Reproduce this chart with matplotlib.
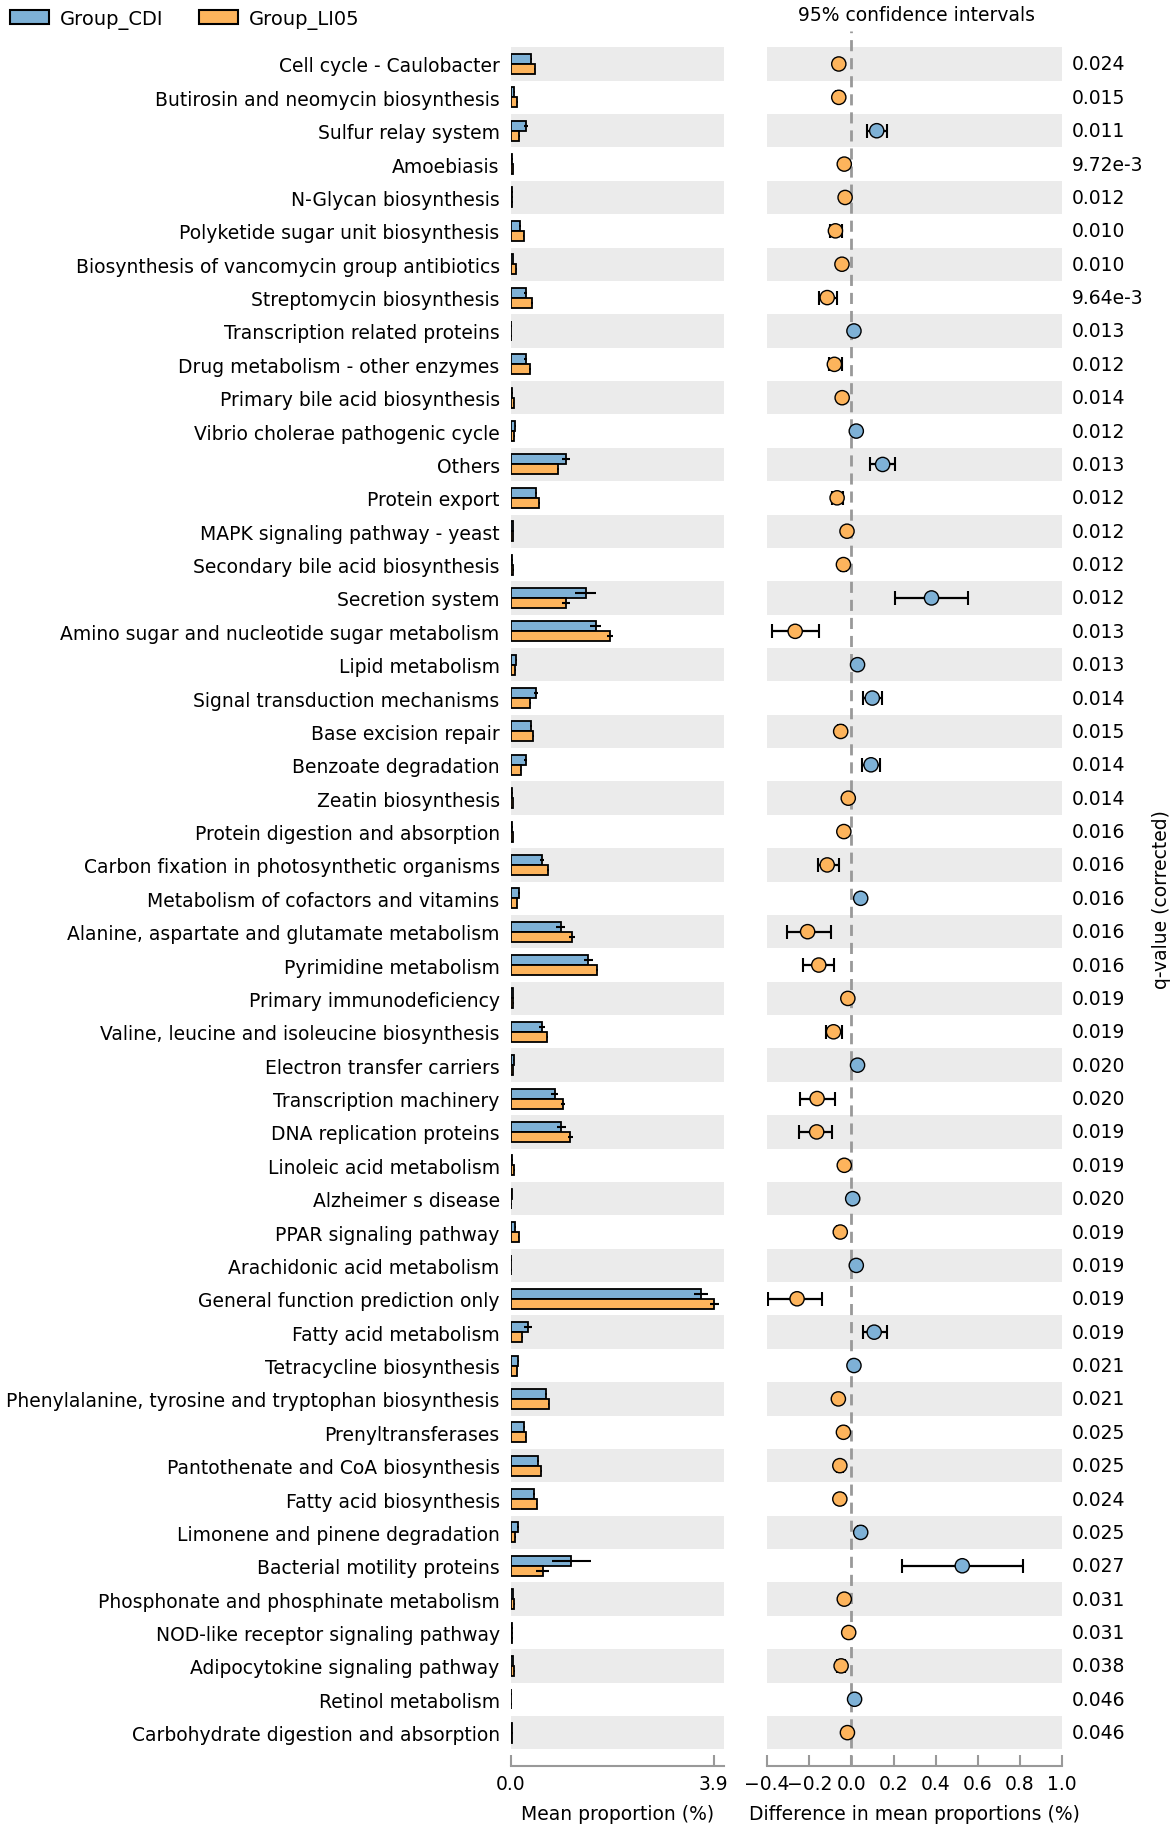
import numpy as np
import matplotlib
matplotlib.use("Agg")
import matplotlib.pyplot as plt
from matplotlib.patches import Patch
from matplotlib.transforms import blended_transform_factory

plt.rcParams['font.family'] = ['DejaVu Sans']
FS = 13.5

categories = [
    "Cell cycle - Caulobacter", "Butirosin and neomycin biosynthesis", "Sulfur relay system",
    "Amoebiasis", "N-Glycan biosynthesis", "Polyketide sugar unit biosynthesis",
    "Biosynthesis of vancomycin group antibiotics", "Streptomycin biosynthesis",
    "Transcription related proteins", "Drug metabolism - other enzymes",
    "Primary bile acid biosynthesis", "Vibrio cholerae pathogenic cycle", "Others",
    "Protein export", "MAPK signaling pathway - yeast", "Secondary bile acid biosynthesis",
    "Secretion system", "Amino sugar and nucleotide sugar metabolism", "Lipid metabolism",
    "Signal transduction mechanisms", "Base excision repair", "Benzoate degradation",
    "Zeatin biosynthesis", "Protein digestion and absorption",
    "Carbon fixation in photosynthetic organisms", "Metabolism of cofactors and vitamins",
    "Alanine, aspartate and glutamate metabolism", "Pyrimidine metabolism",
    "Primary immunodeficiency", "Valine, leucine and isoleucine biosynthesis",
    "Electron transfer carriers", "Transcription machinery", "DNA replication proteins",
    "Linoleic acid metabolism", "Alzheimer s disease", "PPAR signaling pathway",
    "Arachidonic acid metabolism", "General function prediction only",
    "Fatty acid metabolism", "Tetracycline biosynthesis",
    "Phenylalanine, tyrosine and tryptophan biosynthesis", "Prenyltransferases",
    "Pantothenate and CoA biosynthesis", "Fatty acid biosynthesis",
    "Limonene and pinene degradation", "Bacterial motility proteins",
    "Phosphonate and phosphinate metabolism", "NOD-like receptor signaling pathway",
    "Adipocytokine signaling pathway", "Retinol metabolism",
    "Carbohydrate digestion and absorption",
]

cdi = [0.39, 0.07, 0.29, 0.03, 0.03, 0.17, 0.04, 0.29, 0.01, 0.29,
       0.03, 0.085, 1.06, 0.485, 0.04, 0.03, 1.44, 1.63, 0.10, 0.48,
       0.38, 0.29, 0.03, 0.03, 0.60, 0.16, 0.96, 1.49, 0.04, 0.60,
       0.06, 0.84, 0.97, 0.03, 0.02, 0.085, 0.01, 3.65, 0.33, 0.145,
       0.68, 0.255, 0.53, 0.45, 0.14, 1.16, 0.04, 0.03, 0.04, 0.01, 0.02]
li05 = [0.46, 0.12, 0.16, 0.04, 0.03, 0.25, 0.10, 0.40, 0.01, 0.37,
        0.06, 0.07, 0.91, 0.545, 0.04, 0.05, 1.06, 1.90, 0.085, 0.37,
        0.43, 0.19, 0.04, 0.04, 0.715, 0.12, 1.175, 1.66, 0.05, 0.70,
        0.04, 1.01, 1.14, 0.07, 0.01, 0.15, 0.01, 3.91, 0.22, 0.12,
        0.73, 0.29, 0.58, 0.50, 0.085, 0.61, 0.07, 0.03, 0.07, 0.01, 0.02]
cdi_err = [0.01, 0.01, 0.04, 0.005, 0.005, 0.02, 0.005, 0.03, 0.005, 0.03,
           0.005, 0.01, 0.08, 0.02, 0.005, 0.005, 0.20, 0.11, 0.01, 0.04,
           0.02, 0.03, 0.005, 0.005, 0.04, 0.02, 0.085, 0.08, 0.005, 0.055,
           0.01, 0.075, 0.085, 0.005, 0.005, 0.01, 0.005, 0.13, 0.07, 0.01,
           0.02, 0.01, 0.02, 0.02, 0.02, 0.375, 0.005, 0.005, 0.005, 0.005, 0.005]
li05_err = [0.01, 0.01, 0.01, 0.005, 0.005, 0.01, 0.01, 0.02, 0.005, 0.02,
            0.01, 0.005, 0.02, 0.01, 0.005, 0.005, 0.07, 0.06, 0.005, 0.01,
            0.01, 0.01, 0.005, 0.005, 0.02, 0.005, 0.05, 0.02, 0.005, 0.01,
            0.005, 0.04, 0.05, 0.005, 0.005, 0.01, 0.005, 0.08, 0.01, 0.005,
            0.01, 0.01, 0.01, 0.01, 0.005, 0.12, 0.005, 0.005, 0.005, 0.005, 0.005]

diff = [-0.060, -0.060, 0.120, -0.034, -0.030, -0.076, -0.045, -0.115, 0.012, -0.081,
        -0.044, 0.023, 0.148, -0.068, -0.021, -0.038, 0.380, -0.267, 0.029, 0.099,
        -0.051, 0.093, -0.015, -0.036, -0.115, 0.044, -0.208, -0.155, -0.017, -0.085,
        0.029, -0.163, -0.165, -0.034, 0.006, -0.053, 0.023, -0.258, 0.108, 0.012,
        -0.062, -0.038, -0.055, -0.055, 0.044, 0.526, -0.034, -0.013, -0.049, 0.015, -0.019]
ci_low = [-0.072, -0.072, 0.074, -0.042, -0.036, -0.102, -0.055, -0.155, 0.006, -0.108,
          -0.052, 0.017, 0.086, -0.093, -0.027, -0.048, 0.205, -0.377, 0.023, 0.057,
          -0.063, 0.050, -0.021, -0.044, -0.159, 0.036, -0.307, -0.231, -0.025, -0.123,
          0.023, -0.244, -0.248, -0.042, 0.002, -0.068, 0.019, -0.396, 0.057, 0.006,
          -0.075, -0.048, -0.068, -0.068, 0.031, 0.239, -0.042, -0.019, -0.070, 0.011, -0.025]
ci_high = [-0.048, -0.048, 0.167, -0.026, -0.024, -0.045, -0.035, -0.070, 0.018, -0.045,
           -0.036, 0.029, 0.205, -0.038, -0.015, -0.028, 0.554, -0.155, 0.035, 0.146,
           -0.039, 0.137, -0.009, -0.028, -0.060, 0.052, -0.095, -0.083, -0.009, -0.043,
           0.035, -0.079, -0.091, -0.026, 0.010, -0.038, 0.027, -0.138, 0.167, 0.018,
           -0.048, -0.028, -0.042, -0.042, 0.057, 0.814, -0.026, -0.007, -0.030, 0.019, -0.013]
qvalues = ["0.024", "0.015", "0.011", "9.72e-3", "0.012", "0.010", "0.010", "9.64e-3",
           "0.013", "0.012", "0.014", "0.012", "0.013", "0.012", "0.012", "0.012",
           "0.012", "0.013", "0.013", "0.014", "0.015", "0.014", "0.014", "0.016",
           "0.016", "0.016", "0.016", "0.016", "0.019", "0.019", "0.020", "0.020",
           "0.019", "0.019", "0.020", "0.019", "0.019", "0.019", "0.019", "0.021",
           "0.021", "0.025", "0.025", "0.024", "0.025", "0.027", "0.031", "0.031",
           "0.038", "0.046", "0.046"]
group_names = ["Group_CDI", "Group_LI05"]

BLUE = "#7EB1D6"
ORANGE = "#FDB45C"
BAND = "#EBEBEB"
SPINE = "#999999"

n = len(categories)
rows = np.arange(n)
diff_a = np.array(diff)
lo = np.array(ci_low)
hi = np.array(ci_high)

fig = plt.figure(figsize=(11.73, 18.31), dpi=100)
bottom, top = 0.03495, 0.98274
ax1 = fig.add_axes([0.4355, bottom, 0.1815, top - bottom])
ax2 = fig.add_axes([0.654, bottom, 0.2515, top - bottom])

for ax in (ax1, ax2):
    ax.set_ylim(n, -1)
    for i in range(0, n, 2):
        ax.axhspan(i - 0.5, i + 0.5, color=BAND, lw=0, zorder=0)
    for s in ("left", "top", "right"):
        ax.spines[s].set_visible(False)
    ax.spines["bottom"].set_color(SPINE)
    ax.spines["bottom"].set_linewidth(1.5)
    ax.tick_params(axis="x", direction="in", length=8, width=1.5, color=SPINE,
                   labelsize=FS, pad=5.5)

bh = 0.3
ekw = dict(ecolor="black", elinewidth=1.5, capsize=0)
ax1.barh(rows - bh / 2, cdi, height=bh, color=BLUE, edgecolor="black", lw=1.3,
         xerr=cdi_err, error_kw=ekw, zorder=2)
ax1.barh(rows + bh / 2, li05, height=bh, color=ORANGE, edgecolor="black", lw=1.3,
         xerr=li05_err, error_kw=ekw, zorder=2)
ax1.set_xlim(0, 4.09)
ax1.set_xticks([0, 3.9])
ax1.set_xticklabels(["0.0", "3.9"])
ax1.set_yticks(rows)
ax1.set_yticklabels(categories, fontsize=FS)
ax1.tick_params(axis="y", length=0, pad=8)
ax1.set_xlabel("Mean proportion (%)", fontsize=FS, labelpad=8)

ax2.axvline(0, color=SPINE, ls=(0, (4, 2.5)), lw=2, zorder=1)
ax2.errorbar(diff_a, rows, xerr=[diff_a - lo, hi - diff_a], fmt="none", ecolor="black",
             elinewidth=1.6, capsize=5, capthick=1.5, zorder=3)
cols = [BLUE if d > 0 else ORANGE for d in diff]
ax2.scatter(diff_a, rows, s=105, c=cols, edgecolors="black", linewidths=1.0, zorder=4)
ax2.set_xlim(-0.4, 1.0)
ax2.set_xticks(np.round(np.arange(-0.4, 1.01, 0.2), 1))
ax2.set_yticks([])
ax2.set_xlabel("Difference in mean proportions (%)", fontsize=FS, labelpad=8)

tr = blended_transform_factory(fig.transFigure, ax2.transData)
for i, q in enumerate(qvalues):
    fig.text(0.914, i, q, transform=tr, ha="left", va="center", fontsize=FS)

fig.text(0.781, 0.9915, "95% confidence intervals", ha="center", va="center", fontsize=FS)
fig.text(0.99, (top + bottom) / 2, "q-value (corrected)", rotation=90,
         ha="center", va="center", fontsize=FS)

handles = [Patch(facecolor=BLUE, edgecolor="black", lw=1.5),
           Patch(facecolor=ORANGE, edgecolor="black", lw=1.5)]
fig.legend(handles, group_names, loc="upper left", bbox_to_anchor=(0.0, 1.0), ncol=2,
           frameon=False, fontsize=14, handlelength=2.0, handleheight=0.8,
           handletextpad=0.6, columnspacing=1.8, borderaxespad=0.2, borderpad=0.3)

fig.savefig("out.png", dpi=100)
